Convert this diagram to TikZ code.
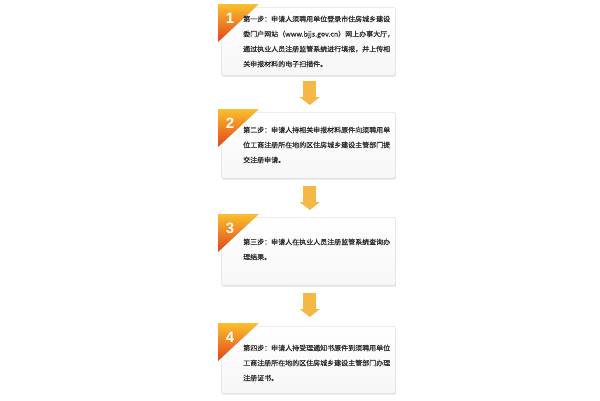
\documentclass[tikz,border=0pt]{standalone}
\usepackage{fontspec}
\newfontfamily\cjk[FakeBold=0.6]{Noto Sans CJK SC}
\newfontfamily\numfont{Liberation Sans}
\usetikzlibrary{arrows.meta}
\definecolor{txt}{RGB}{45,45,45}
\definecolor{arr}{RGB}{244,184,70}
\definecolor{tabtop}{RGB}{250,192,45}
\definecolor{tabbot}{RGB}{228,66,26}
\definecolor{boxline}{RGB}{226,226,226}
\tikzset{
  stepbox/.style={draw=boxline, line width=0.6pt, top color=white, bottom color={rgb,255:red,247;green,247;blue,247},
    rounded corners=2pt, anchor=north west, inner sep=0pt, minimum width=174pt,
    preaction={fill=black!12, rounded corners=2pt, transform canvas={xshift=0.6pt,yshift=-1.4pt}}},
  steptext/.style={anchor=north west, inner sep=0pt, align=left, text=txt,
    font=\cjk\fontsize{7}{15}\selectfont},
  stepnum/.style={text=white, inner sep=0pt, font=\numfont\bfseries\fontsize{15}{15}\selectfont},
  steparrow/.style={draw=arr, line width=13pt, -{Triangle[width=20pt,length=8pt]}},
  steptab/.style={top color=tabtop, bottom color=tabbot}
}
\begin{document}
\begin{tikzpicture}[x=1pt,y=-1pt]
\useasboundingbox (0,0) rectangle (600,400);
\fill[white] (0,0) rectangle (600,400);

% boxes
\node[stepbox, minimum height=68pt] (b1) at (221,7) {};
\node[stepbox, minimum height=66pt] (b2) at (221,112) {};
\node[stepbox, minimum height=68pt] (b3) at (221,217) {};
\node[stepbox, minimum height=67pt] (b4) at (221,326) {};

% tabs
\shade[steptab] (218,4) -- (259,4) -- (218,42) -- cycle;
\shade[steptab] (218,109) -- (259,109) -- (218,147) -- cycle;
\shade[steptab] (218,214) -- (259,214) -- (218,252) -- cycle;
\shade[steptab] (218,323) -- (259,323) -- (218,361) -- cycle;

\node[stepnum] (n1) at (230,18) {1};
\node[stepnum] (n2) at (230,123) {2};
\node[stepnum] (n3) at (230,228) {3};
\node[stepnum] (n4) at (230,337) {4};

% texts
\node[steptext] (t1) at (243,15.5) {第一步：申请人须聘用单位登录市住房城乡建设\\委门户网站（www.bjjs.gov.cn）网上办事大厅，\\通过执业人员注册监管系统进行填报，并上传相\\关申报材料的电子扫描件。};
\node[steptext] (t2) at (243,126.5) {第二步：申请人持相关申报材料原件向须聘用单\\位工商注册所在地的区住房城乡建设主管部门提\\交注册申请。};
\node[steptext] (t3) at (243,238.5) {第三步：申请人在执业人员注册监管系统查询办\\理结果。};
\node[steptext] (t4) at (243,344.5) {第四步：申请人持受理通知书原件到须聘用单位\\工商注册所在地的区住房城乡建设主管部门办理\\注册证书。};

% arrows
\draw[steparrow, shorten <=5pt, shorten >=7pt] ([xshift=1.5pt]b1.south) -- ([xshift=1.5pt]b2.north);
\draw[steparrow, shorten <=7pt, shorten >=7pt] ([xshift=1.5pt]b2.south) -- ([xshift=1.5pt]b3.north);
\draw[steparrow, shorten <=7pt, shorten >=9pt] ([xshift=1.5pt]b3.south) -- ([xshift=1.5pt]b4.north);
\end{tikzpicture}
\end{document}
